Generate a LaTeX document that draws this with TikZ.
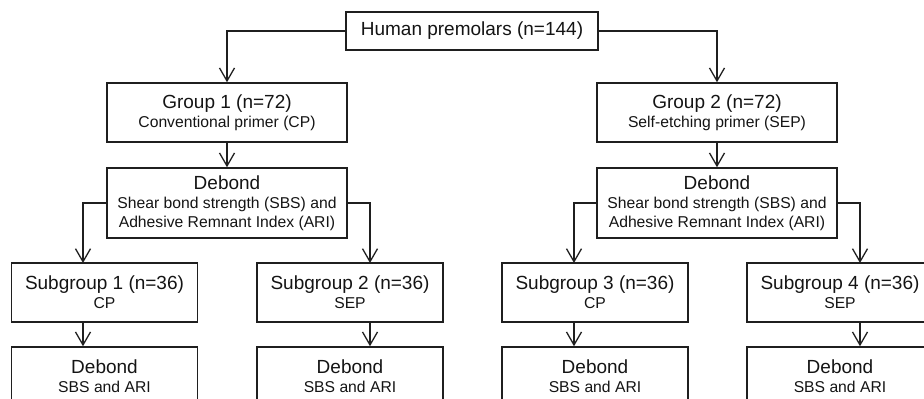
\documentclass[tikz,border=0pt]{standalone}
\usepackage{fontspec}
\setmainfont{Liberation Sans}
\usetikzlibrary{arrows.meta}
\begin{document}
\begin{tikzpicture}[x=1pt,y=-1pt,
  box/.style={draw=black!88, line width=1.5pt, rectangle, inner sep=0pt, align=center,
    font=\fontsize{15.7}{19}\selectfont, text=black!92},
  big/.style={box, minimum width=240pt},
  small/.style={box, minimum width=186pt, minimum height=59pt},
  conn/.style={draw=black!88, line width=1.3pt},
  arr/.style={conn, -{Straight Barb[length=13pt,width=15pt]}}]
\useasboundingbox (0,0) rectangle (924,399);
\begin{scope}
\clip (0,0) rectangle (924,399);
\newcommand{\hd}[1]{{\fontsize{19}{19}\selectfont #1}}
\node[box, minimum width=252pt, minimum height=38pt, font=\fontsize{19}{19}\selectfont] (top) at (472,31) {Human premolars (n=144)};
\node[big, minimum height=59pt] (g1) at (227,112.5) {\hd{Group 1 (n=72)}\\Conventional primer (CP)};
\node[big, minimum height=59pt] (g2) at (717,112.5) {\hd{Group 2 (n=72)}\\Self-etching primer (SEP)};
\node[big, minimum height=70pt] (d1) at (227,203) {\hd{Debond}\\Shear bond strength (SBS) and\\Adhesive Remnant Index (ARI)};
\node[big, minimum height=70pt] (d2) at (717,203) {\hd{Debond}\\Shear bond strength (SBS) and\\Adhesive Remnant Index (ARI)};
\node[small] (s1) at (104.5,292.5) {\hd{Subgroup 1 (n=36)}\\CP};
\node[small] (s2) at (350,292.5) {\hd{Subgroup 2 (n=36)}\\SEP};
\node[small] (s3) at (595,292.5) {\hd{Subgroup 3 (n=36)}\\CP};
\node[small] (s4) at (840,292.5) {\hd{Subgroup 4 (n=36)}\\SEP};
\node[small] (b1) at (104.5,376.5) {\hd{Debond}\\SBS and ARI};
\node[small] (b2) at (350,376.5) {\hd{Debond}\\SBS and ARI};
\node[small] (b3) at (595,376.5) {\hd{Debond}\\SBS and ARI};
\node[small] (b4) at (840,376.5) {\hd{Debond}\\SBS and ARI};
\coordinate (k1) at (83,263);
\coordinate (k2) at (370,263);
\coordinate (k3) at (574,263);
\coordinate (k4) at (860,263);
\draw[arr] (top.west) -| (g1.north);
\draw[arr] (top.east) -| (g2.north);
\draw[arr] (g1.south) -- (d1.north);
\draw[arr] (g2.south) -- (d2.north);
\draw[arr] (d1.west) -| (k1);
\draw[arr] (d1.east) -| (k2);
\draw[arr] (d2.west) -| (k3);
\draw[arr] (d2.east) -| (k4);
\draw[arr] (s1.south -| k1) -- (b1.north -| k1);
\draw[arr] (s2.south -| k2) -- (b2.north -| k2);
\draw[arr] (s3.south -| k3) -- (b3.north -| k3);
\draw[arr] (s4.south -| k4) -- (b4.north -| k4);
\end{scope}
\end{tikzpicture}
\end{document}
